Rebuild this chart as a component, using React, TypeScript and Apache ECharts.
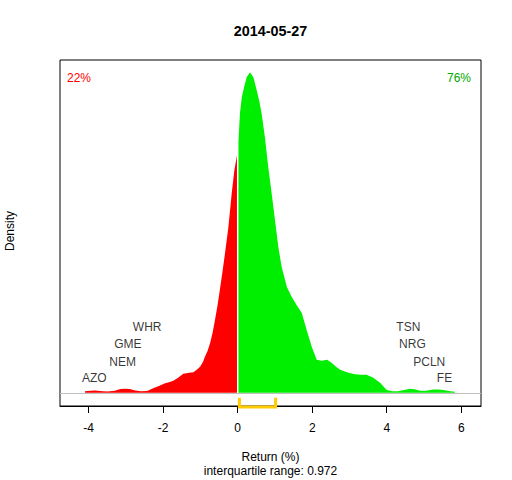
import React, { useEffect, useRef } from "react";
import * as echarts from "echarts";

// density outline (return %, density height in relative units)
const negReturns = [-4.1, -3.95, -3.83, -3.7, -3.5, -3.3, -3.15, -3.02, -2.9, -2.75, -2.6, -2.43, -2.27, -2.1, -1.95, -1.8, -1.73, -1.6, -1.46, -1.3, -1.19, -1.1, -1.01, -0.93, -0.88, -0.81, -0.74, -0.67, -0.61, -0.54, -0.48, -0.41, -0.34, -0.25, -0.16, -0.09, -0.02];
const negDensity = [1.5, 2.0, 2.2, 1.7, 1.4, 2.0, 3.8, 4.2, 3.8, 2.2, 1.5, 1.8, 4.5, 7, 9.7, 11, 12, 15, 19, 20, 20.5, 23, 26, 31, 36, 42, 50, 61, 73, 88, 103, 121, 140, 166, 200, 223, 238];
const posReturns = [0.02, 0.06, 0.11, 0.17, 0.24, 0.33, 0.42, 0.51, 0.58, 0.64, 0.73, 0.82, 0.91, 1.0, 1.09, 1.18, 1.32, 1.45, 1.58, 1.72, 1.85, 1.99, 2.12, 2.25, 2.4, 2.52, 2.64, 2.75, 2.97, 3.15, 3.28, 3.46, 3.64, 3.73, 3.82, 3.92, 4.0, 4.15, 4.3, 4.5, 4.62, 4.75, 4.89, 5.05, 5.25, 5.4, 5.52, 5.65, 5.83];
const posDensity = [252, 280, 296, 306, 316, 321, 316, 303, 292, 280, 256, 226, 200, 173, 146, 126, 106, 96, 88, 80, 63, 46, 33, 32, 33, 30, 26, 23, 20, 18.5, 18, 18, 15, 12.5, 10, 6, 2.7, 1.5, 1.5, 3, 4, 3.5, 2, 2, 3.3, 3.2, 2.7, 1.8, 1];

// labelled stocks
const stockNames = ["AZO", "NEM", "GME", "WHR", "TSN", "NRG", "PCLN", "FE"];
const stockReturns = [-3.85, -3.09, -2.95, -2.43, 4.58, 4.69, 5.14, 5.55];
const stockLabelHeights = [15.3, 31.3, 48.7, 65.7, 65.7, 48.7, 31.3, 15.3];

const xTicks = [-4, -2, 0, 2, 4, 6];
const quartiles = [0.045, 1.017];
const iqrText = "interquartile range: 0.972";
const negShare = "22%";
const posShare = "76%";
const title = "2014-05-27";

const FONT = "'Liberation Sans', Arial, sans-serif";

export default function App() {
  const ref = useRef<HTMLDivElement>(null);
  useEffect(() => {
    if (!ref.current) return;
    const chart = echarts.init(ref.current, null, { renderer: "svg" });
    const neg = negReturns.map((x, i) => [x, negDensity[i]]);
    const pos = posReturns.map((x, i) => [x, posDensity[i]]);
    const labels = stockNames.map((n, i) => [stockReturns[i], stockLabelHeights[i], n]);
    const bracket = [
      [quartiles[0], -5],
      [quartiles[0], -14.2],
      [quartiles[1], -14.2],
      [quartiles[1], -5],
    ];
    chart.setOption({
      animation: false,
      backgroundColor: "#ffffff",
      textStyle: { fontFamily: FONT },
      grid: {
        left: 60,
        right: 31,
        top: 60,
        bottom: 74,
        show: true,
        borderColor: "#000",
        borderWidth: 1,
        backgroundColor: "transparent",
      },
      xAxis: {
        type: "value",
        min: -4.77,
        max: 6.53,
        splitLine: { show: false },
        axisLine: { show: true, onZero: false, lineStyle: { color: "#000", width: 1 } },
        axisTick: { show: true, inside: false, length: 7, customValues: xTicks, lineStyle: { color: "#000" } },
        axisLabel: {
          customValues: xTicks,
          color: "#000",
          fontSize: 12,
          fontFamily: FONT,
          margin: 16,
          formatter: (v: number) => String(v),
        },
      },
      yAxis: {
        type: "value",
        min: -13.2,
        max: 333.3,
        show: false,
        splitLine: { show: false },
      },
      graphic: [
        { type: "text", x: 270.5, y: 31, style: { text: title, font: `bold 14.4px ${FONT}`, fill: "#000", textAlign: "center", textVerticalAlign: "middle" } },
        { type: "text", x: 67, y: 78, style: { text: negShare, font: `12px ${FONT}`, fill: "#FF0000", textVerticalAlign: "middle" } },
        { type: "text", x: 471, y: 78, style: { text: posShare, font: `12px ${FONT}`, fill: "#00A800", textAlign: "right", textVerticalAlign: "middle" } },
        { type: "text", x: 270.5, y: 457, style: { text: "Return (%)", font: `12px ${FONT}`, fill: "#000", textAlign: "center", textVerticalAlign: "middle" } },
        { type: "text", x: 270.5, y: 471, style: { text: iqrText, font: `12px ${FONT}`, fill: "#000", textAlign: "center", textVerticalAlign: "middle" } },
        { type: "text", x: 10, y: 231, rotation: Math.PI / 2, style: { text: "Density", font: `12px ${FONT}`, fill: "#000", textAlign: "center", textVerticalAlign: "middle" } },
      ],
      series: [
        {
          type: "line",
          data: neg,
          symbol: "none",
          lineStyle: { width: 0 },
          areaStyle: { color: "#FF0000", opacity: 1 },
          z: 2,
        },
        {
          type: "line",
          data: pos,
          symbol: "none",
          lineStyle: { width: 0 },
          areaStyle: { color: "#00EE00", opacity: 1 },
          z: 2,
          markLine: {
            silent: true,
            symbol: "none",
            label: { show: false },
            lineStyle: { color: "#BEBEBE", width: 1, type: "solid" },
            data: [{ yAxis: 0 }],
          },
        },
        {
          type: "scatter",
          data: labels,
          symbolSize: 0,
          z: 4,
          itemStyle: { color: "#000" },
          label: {
            show: true,
            position: "inside",
            formatter: (p: any) => p.data[2],
            color: "#000",
            textBorderWidth: 0,
            fontSize: 12,
            fontFamily: FONT,
          },
        },
        {
          type: "line",
          data: bracket,
          symbol: "none",
          clip: false,
          z: 5,
          lineStyle: { color: "#FFCC00", width: 3, cap: "butt", join: "miter" },
        },
      ],
    });
    return () => chart.dispose();
  }, []);
  return <div ref={ref} style={{ position: "fixed", left: 0, top: 0, width: 512, height: 480 }} />;
}
